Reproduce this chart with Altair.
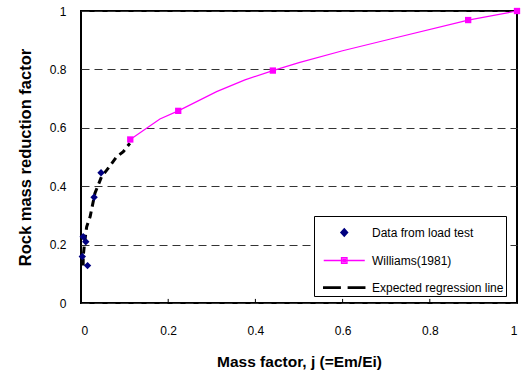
import altair as alt
import pandas as pd

# Data from load test (j, reduction factor)
load_j = [0.003, 0.005, 0.011, 0.015, 0.030, 0.046]
load_r = [0.159, 0.227, 0.210, 0.128, 0.362, 0.446]

# Williams (1981) curve (line) and its markers
will_line_j = [0.113, 0.181, 0.223, 0.311, 0.376, 0.440, 0.500, 0.600, 0.710, 0.888, 1.000]
will_line_r = [0.560, 0.630, 0.658, 0.724, 0.764, 0.796, 0.823, 0.864, 0.904, 0.969, 1.000]
will_mark_j = [0.113, 0.223, 0.440, 0.888, 1.000]
will_mark_r = [0.560, 0.658, 0.796, 0.969, 1.000]

# Expected regression line
reg_j = [0.005, 0.005, 0.009, 0.013, 0.021, 0.032, 0.047, 0.059, 0.082, 0.097, 0.112]
reg_r = [0.128, 0.159, 0.216, 0.261, 0.296, 0.376, 0.432, 0.455, 0.501, 0.518, 0.547]

x_ticks = [0, 0.2, 0.4, 0.6, 0.8, 1]
y_ticks = [0, 0.2, 0.4, 0.6, 0.8, 1]
inner_ticks = [0.2, 0.4, 0.6, 0.8]

series_names = ["Data from load test", "Williams(1981)", "Expected regression line"]
series_colors = ["#000080", "#FF00FF", "#000000"]
series_shapes = [
    "M0.5,-0.28L0.75,0L0.5,0.28L0.25,0ZM0.5,-0.15L0.63,0L0.5,0.15L0.37,0ZM0.4,0H0.6",
    "M-1.02,0H2.02M0.3,-0.2H0.7V0.2H0.3ZM0.42,-0.08H0.58V0.08H0.42Z",
    "M-1.02,-0.05H0.2V0.05H-1.02ZM0.8,-0.05H2.02V0.05H0.8Z",
]

FONT = "Liberation Sans"

df_load = pd.DataFrame({"j": load_j, "r": load_r})
df_wl = pd.DataFrame({"j": will_line_j, "r": will_line_r})
df_wm = pd.DataFrame({"j": will_mark_j, "r": will_mark_r})
df_reg = pd.DataFrame({"j": reg_j, "r": reg_r})
df_ticks = pd.DataFrame({"j": inner_ticks, "y0": [0.0] * 4, "y1": [0.014] * 4})
df_leg = pd.DataFrame({"series": series_names})

xs = alt.Scale(domain=[0, 1], nice=False, zero=False)
ys = alt.Scale(domain=[0, 1], nice=False, zero=False)

x_axis = alt.Axis(
    title="Mass factor, j (=Em/Ei)", values=x_ticks, format="~g", grid=False,
    ticks=False, domain=False, labelPadding=22, titlePadding=18,
    labelFontSize=12, titleFontSize=15.5, labelFont=FONT, titleFont=FONT,
    titleFontWeight="bold", labelColor="black", titleColor="black",
)
y_axis = alt.Axis(
    title="Rock mass reduction factor", values=y_ticks, format="~g", grid=True,
    gridDash=[8, 5], gridColor="#333333", gridWidth=1,
    ticks=False, domain=False, labelPadding=15, titlePadding=16,
    labelFontSize=12, titleFontSize=16.5, labelFont=FONT, titleFont=FONT,
    titleFontWeight="bold", labelColor="black", titleColor="black",
)

base_x = alt.X("j:Q", scale=xs, axis=x_axis)
base_y = alt.Y("r:Q", scale=ys, axis=y_axis)

reg = alt.Chart(df_reg).mark_line(color="black", strokeWidth=3, strokeDash=[7, 5]).encode(
    x=alt.X("j:Q", scale=xs), y=alt.Y("r:Q", scale=ys), order=alt.Order("r:Q")
)
wline = alt.Chart(df_wl).mark_line(color="#FF00FF", strokeWidth=1.2).encode(
    x=base_x, y=base_y
)
wmark = alt.Chart(df_wm).mark_point(shape="square", filled=True, color="#FF00FF", size=40, opacity=1).encode(
    x=alt.X("j:Q", scale=xs), y=alt.Y("r:Q", scale=ys)
)
load = alt.Chart(df_load).mark_point(shape="diamond", filled=True, color="#000080", size=55, opacity=1).encode(
    x=alt.X("j:Q", scale=xs), y=alt.Y("r:Q", scale=ys)
)
ticks = alt.Chart(df_ticks).mark_rule(color="black", strokeWidth=1).encode(
    x=alt.X("j:Q", scale=xs), y=alt.Y("y0:Q", scale=ys), y2="y1:Q"
)

legend = alt.Legend(
    title=None, orient="none", legendX=233, legendY=205,
    fillColor="white", strokeColor="black", padding=2,
    symbolSize=729, symbolOffset=7, labelOffset=20, rowPadding=6,
    symbolStrokeWidth=1.4, symbolOpacity=1,
    labelFontSize=12, labelFont=FONT, labelColor="black",
)
leg = alt.Chart(df_leg).mark_point(filled=False, clip=True, strokeWidth=1.4).encode(
    x=alt.value(-60), y=alt.value(-60),
    color=alt.Color("series:N", scale=alt.Scale(domain=series_names, range=series_colors), legend=legend),
    shape=alt.Shape("series:N", scale=alt.Scale(domain=series_names, range=series_shapes), legend=legend),
)

chart = alt.layer(wline, reg, ticks, wmark, load, leg).properties(
    width=436, height=292,
    autosize=alt.AutoSizeParams(type="none"),
    padding={"left": 81, "top": 11, "right": 6, "bottom": 78},
    background="white",
).configure_view(stroke="black", strokeWidth=2)

chart.save("out.html", embed_options={"renderer": "svg", "actions": False})
